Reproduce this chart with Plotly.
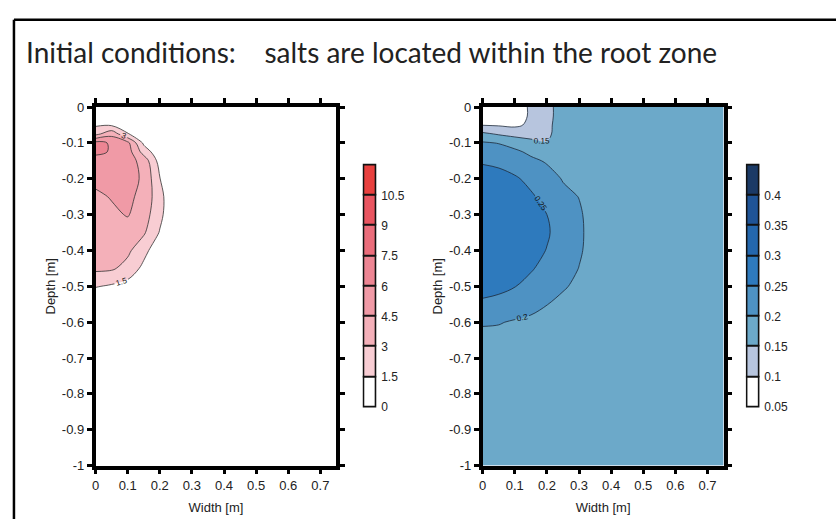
import plotly.graph_objects as go

# ---- Salt concentration field (left panel) ----
salt_x = [0, 0.05, 0.1, 0.15, 0.2, 0.25, 0.3, 0.75]
salt_y = [0, -0.05, -0.075, -0.1, -0.125, -0.15, -0.2, -0.25, -0.3, -0.35,
          -0.4, -0.45, -0.5, -0.55, -0.6, -1.0]
salt_z = [
    [0, 0, 0, 0, 0, 0, 0, 0],
    [1.3, 1.3, 0.8, 0, 0, 0, 0, 0],
    [2.55, 4.0, 1.6, 0.3, 0, 0, 0, 0],
    [6.5, 5.8, 4.9, 1.2, 0, 0, 0, 0],
    [6.4, 5.85, 5.2, 2.4, 0.4, 0, 0, 0],
    [5.3, 5.5, 5.2, 3.9, 0.9, 0, 0, 0],
    [4.9, 5.1, 5.0, 4.3, 1.55, 0, 0, 0],
    [4.2, 4.6, 4.8, 4.1, 2.0, 0, 0, 0],
    [4.0, 4.2, 4.6, 3.7, 1.9, 0, 0, 0],
    [3.9, 4.0, 3.8, 3.2, 1.4, 0, 0, 0],
    [3.7, 3.7, 3.3, 2.0, 0.4, 0, 0, 0],
    [3.3, 3.2, 2.5, 1.1, 0, 0, 0, 0],
    [1.6, 1.3, 0.9, 0, 0, 0, 0, 0],
    [0, 0, 0, 0, 0, 0, 0, 0],
    [0, 0, 0, 0, 0, 0, 0, 0],
    [0, 0, 0, 0, 0, 0, 0, 0],
]
# band edges of the colour key; inner edges are the contour levels
salt_bounds = [0, 1.5, 3, 4.5, 6, 7.5, 9, 10.5, 12]
salt_labelled = [1.5, 3]
salt_ticktext = ["0", "1.5", "3", "4.5", "6", "7.5", "9", "10.5"]
salt_colors = ["#ffffff", "#f8cdd3", "#f4b0b9", "#f09aa6", "#ed8593",
               "#eb6d7b", "#e95560", "#e8403e"]

# ---- Water content field (right panel) ----
wc_x = [0, 0.05, 0.1, 0.15, 0.2, 0.25, 0.3, 0.35, 0.4, 0.75]
wc_y = [0, -0.025, -0.05, -0.075, -0.1, -0.125, -0.15, -0.2, -0.25, -0.3,
        -0.35, -0.4, -0.45, -0.5, -0.55, -0.6, -0.65, -0.7, -1.0]
wc_z = [
    [0.06, 0.06, 0.065, 0.11, 0.13, 0.18, 0.178, 0.176, 0.175, 0.175],
    [0.06, 0.06, 0.065, 0.11, 0.13, 0.18, 0.178, 0.176, 0.175, 0.175],
    [0.098, 0.095, 0.09, 0.11, 0.135, 0.18, 0.178, 0.176, 0.175, 0.175],
    [0.16, 0.145, 0.135, 0.13, 0.14, 0.175, 0.177, 0.176, 0.175, 0.175],
    [0.205, 0.198, 0.18, 0.165, 0.152, 0.17, 0.176, 0.176, 0.175, 0.175],
    [0.225, 0.22, 0.21, 0.19, 0.175, 0.168, 0.175, 0.175, 0.175, 0.175],
    [0.245, 0.24, 0.23, 0.21, 0.195, 0.175, 0.175, 0.175, 0.175, 0.175],
    [0.27, 0.265, 0.255, 0.24, 0.22, 0.197, 0.18, 0.176, 0.175, 0.175],
    [0.285, 0.28, 0.27, 0.255, 0.238, 0.212, 0.199, 0.178, 0.175, 0.175],
    [0.29, 0.285, 0.275, 0.262, 0.25, 0.232, 0.206, 0.18, 0.175, 0.175],
    [0.29, 0.285, 0.275, 0.263, 0.253, 0.238, 0.208, 0.181, 0.175, 0.175],
    [0.285, 0.28, 0.27, 0.26, 0.249, 0.234, 0.206, 0.18, 0.175, 0.175],
    [0.275, 0.27, 0.262, 0.253, 0.24, 0.222, 0.199, 0.178, 0.175, 0.175],
    [0.262, 0.258, 0.251, 0.24, 0.226, 0.205, 0.19, 0.177, 0.175, 0.175],
    [0.244, 0.24, 0.23, 0.218, 0.201, 0.188, 0.18, 0.176, 0.175, 0.175],
    [0.205, 0.203, 0.195, 0.188, 0.182, 0.178, 0.176, 0.175, 0.175, 0.175],
    [0.184, 0.183, 0.18, 0.178, 0.177, 0.175, 0.175, 0.175, 0.175, 0.175],
    [0.175, 0.175, 0.175, 0.175, 0.175, 0.175, 0.175, 0.175, 0.175, 0.175],
    [0.175, 0.175, 0.175, 0.175, 0.175, 0.175, 0.175, 0.175, 0.175, 0.175],
]
wc_bounds = [0.05, 0.1, 0.15, 0.2, 0.25, 0.3, 0.35, 0.4, 0.45]
wc_labelled = [0.15, 0.25]
wc_ticktext = ["0.05", "0.1", "0.15", "0.2", "0.25", "0.3", "0.35", "0.4"]
wc_colors = ["#ffffff", "#b7c5de", "#6ca9c9", "#4e92c3", "#2e7abd",
             "#2467ad", "#1f5497", "#1b3a66"]

# ---- Axis ticks ----
width_ticks = [0, 0.1, 0.2, 0.3, 0.4, 0.5, 0.6, 0.7]
width_ticktext = ["0", "0.1", "0.2", "0.3", "0.4", "0.5", "0.6", "0.7"]
depth_ticks = [0, -0.1, -0.2, -0.3, -0.4, -0.5, -0.6, -0.7, -0.8, -0.9, -1]
depth_ticktext = ["0", "-0.1", "-0.2", "-0.3", "-0.4", "-0.5", "-0.6",
                  "-0.7", "-0.8", "-0.9", "-1"]

W, H = 836, 527
FONT = "Liberation Sans"
LABEL_FONT = dict(size=8, color="#111", family=FONT)


def stepped(colors):
    n = len(colors) - 1
    return [[i / n, c] for i, c in enumerate(colors)]


def add_field(x, y, z, bounds, colors, labelled, line_color, xa, ya):
    """Filled contour bands plus the contour lines (some of them labelled)."""
    size = bounds[1] - bounds[0]
    inner = bounds[1:-1]
    fig.add_trace(go.Contour(
        x=x, y=y, z=z, xaxis=xa, yaxis=ya, autocontour=False,
        contours=dict(start=inner[0], end=inner[-1], size=size,
                      coloring="fill", showlines=False),
        colorscale=stepped(colors), showscale=False,
        line=dict(width=0, smoothing=1.0), hoverinfo="skip",
    ))
    plain = [v for v in inner if v < labelled[0] or v > labelled[-1]]
    groups = [(labelled[0], labelled[-1], True)]
    below = [v for v in plain if v < labelled[0]]
    above = [v for v in plain if v > labelled[-1]]
    if below:
        groups.append((below[0], below[-1], False))
    if above:
        groups.append((above[0], above[-1], False))
    for lo, hi, show in groups:
        fig.add_trace(go.Contour(
            x=x, y=y, z=z, xaxis=xa, yaxis=ya, autocontour=False,
            contours=dict(start=lo, end=hi, size=size, coloring="none",
                          showlabels=show, labelfont=LABEL_FONT),
            line=dict(color=line_color, width=0.8, smoothing=1.0),
            showscale=False, hoverinfo="skip",
        ))


def add_key(bounds, colors, xa, ya):
    """Colour key drawn as stacked bands, one per contour interval."""
    fig.add_trace(go.Bar(
        x=[0] * len(colors),
        y=[hi - lo for lo, hi in zip(bounds[:-1], bounds[1:])],
        base=bounds[:-1], width=[1] * len(colors),
        marker=dict(color=colors, line=dict(color="#111", width=1.6)),
        xaxis=xa, yaxis=ya, hoverinfo="skip", showlegend=False,
    ))


fig = go.Figure()
add_field(salt_x, salt_y, salt_z, salt_bounds, salt_colors, salt_labelled,
          "#333", "x", "y")
add_field(wc_x, wc_y, wc_z, wc_bounds, wc_colors, wc_labelled,
          "#1d2a3a", "x2", "y2")
add_key(salt_bounds, salt_colors, "x3", "y3")
add_key(wc_bounds, wc_colors, "x4", "y4")

xdom_left = [92 / W, 334 / W]
xdom_right = [481 / W, 723 / W]
ydom = [1 - 472 / H, 1 - 103 / H]

# key geometry: bands span 163..412 px, with a 3 px margin so outlines are not clipped
KEY_TOP, KEY_BOTTOM, KEY_PAD = 163, 412, 3
key_ydom = [1 - (KEY_BOTTOM + KEY_PAD) / H, 1 - (KEY_TOP - KEY_PAD) / H]


def key_range(bounds):
    span = bounds[-1] - bounds[0]
    pad = span * KEY_PAD / (KEY_BOTTOM - KEY_TOP)
    return [bounds[0] - pad, bounds[-1] + pad]


axis_common = dict(
    showline=True, linewidth=3.5, linecolor="#000", mirror="allticks",
    ticks="outside", ticklen=5, tickwidth=3, tickcolor="#000",
    showgrid=False, zeroline=False,
    tickfont=dict(family=FONT, size=13, color="#222"),
)
xaxis_common = dict(axis_common, range=[0, 0.75], tickmode="array",
                    tickvals=width_ticks, ticktext=width_ticktext,
                    title=dict(text="Width [m]", standoff=12,
                               font=dict(family=FONT, size=13, color="#222")))
yaxis_common = dict(axis_common, range=[-1, 0], tickmode="array",
                    tickvals=depth_ticks, ticktext=depth_ticktext,
                    title=dict(text="Depth [m]", standoff=4,
                               font=dict(family=FONT, size=13, color="#222")))
# bar width 1 over a 1.3-wide range leaves room for the outline stroke
key_x = dict(range=[-0.65, 0.65], visible=False, fixedrange=True)
key_y = dict(side="right", showline=False, showgrid=False, zeroline=False,
             ticks="", tickmode="array", ticklabelstandoff=2,
             tickfont=dict(family=FONT, size=12, color="#222"))

fig.update_layout(
    width=W, height=H,
    margin=dict(l=0, r=0, t=0, b=0),
    paper_bgcolor="#fff", plot_bgcolor="rgba(0,0,0,0)",
    showlegend=False, bargap=0,
    xaxis=dict(xaxis_common, domain=xdom_left, anchor="y"),
    yaxis=dict(yaxis_common, domain=ydom, anchor="x"),
    xaxis2=dict(xaxis_common, domain=xdom_right, anchor="y2"),
    yaxis2=dict(yaxis_common, domain=ydom, anchor="x2"),
    xaxis3=dict(key_x, domain=[360 / W, 376 / W], anchor="y3"),
    yaxis3=dict(key_y, domain=key_ydom, anchor="x3",
                range=key_range(salt_bounds),
                tickvals=salt_bounds[:-1], ticktext=salt_ticktext),
    xaxis4=dict(key_x, domain=[745 / W, 761 / W], anchor="y4"),
    yaxis4=dict(key_y, domain=key_ydom, anchor="x4",
                range=key_range(wc_bounds),
                tickvals=wc_bounds[:-1], ticktext=wc_ticktext),
    annotations=[dict(
        text="Initial conditions:\u00a0\u00a0\u00a0\u00a0salts are located within the root zone",
        x=20 / W, y=1 - 46 / H, xref="paper", yref="paper",
        xanchor="left", yanchor="middle", showarrow=False,
        font=dict(family="Lato", size=28, color="#222"),
    )],
    shapes=[
        dict(type="line", xref="paper", yref="paper",
             x0=10 / W, x1=10 / W, y0=0, y1=1 - 13 / H,
             line=dict(color="#000", width=2.5)),
        dict(type="line", xref="paper", yref="paper",
             x0=10 / W, x1=1, y0=1 - 13 / H, y1=1 - 13 / H,
             line=dict(color="#000", width=2.5)),
    ],
)

fig.write_html("out.html")
